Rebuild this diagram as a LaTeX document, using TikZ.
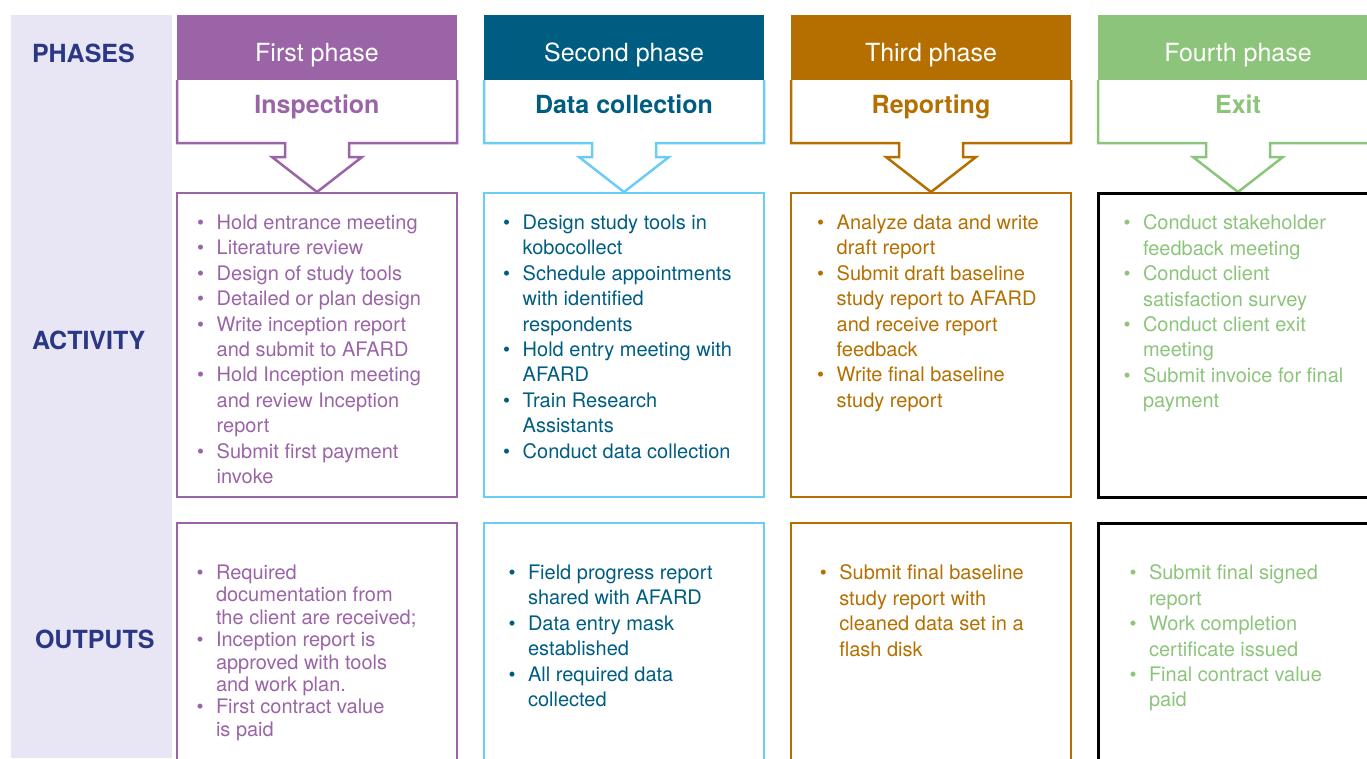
\documentclass[tikz,border=0pt]{standalone}
\usepackage{fontspec}
\setmainfont{TeX Gyre Heros}
\usetikzlibrary{positioning}

\definecolor{lav}{HTML}{E8E6F4}
\definecolor{navy}{HTML}{2A3784}
\definecolor{purp}{HTML}{9A64A7}
\definecolor{deepteal}{HTML}{005D82}
\definecolor{sky}{HTML}{6BCDF3}
\definecolor{ochre}{HTML}{B46F00}
\definecolor{leaf}{HTML}{8DC47B}

% bullet and hanging indent for the item lists
\newcommand{\bul}{\makebox[32pt]{\textbullet}}
\newcommand{\ind}{\hspace*{32pt}}

\begin{document}
\begin{tikzpicture}[x=1pt, y=-1pt,
    every node/.style={outer sep=0pt, inner sep=0pt},
    head/.style={minimum width=280pt, minimum height=65pt, text=white,
        font=\fontsize{25}{30}\selectfont, text height=30pt, text depth=3pt},
    phasetitle/.style={minimum width=280pt, minimum height=63pt,
        font=\fontsize{25}{30}\selectfont\bfseries, text height=18pt, text depth=15pt},
    card/.style={draw, line width=2.5pt, minimum width=280pt},
    actbox/.style={card, minimum height=304pt},
    outbox/.style={card, minimum height=260pt},
    rim/.style={line width=2.5pt},
    items/.style={align=left, font=\fontsize{20}{25.4}\selectfont},
    rowlabel/.style={anchor=west, text=navy, font=\fontsize{25}{30}\selectfont\bfseries}]
    \clip (0,0) rectangle (1367,758);

    % row labels on the left band
    \fill[lav] (11,15) rectangle (172,758);
    \node[rowlabel] (phases) at (32,53) {PHASES};
    \node[rowlabel] (activity) at (32,340) {ACTIVITY};
    \node[rowlabel] (outputs) at (35,639) {OUTPUTS};

    % phase headers
    \node[head, fill=purp, anchor=north west] (hd1) at (177,15) {First phase};
    \node[head, fill=deepteal, right=27pt of hd1] (hd2) {Second phase};
    \node[head, fill=ochre, right=27pt of hd2] (hd3) {Third phase};
    \node[head, fill=leaf, right=27pt of hd3] (hd4) {Fourth phase};

    \node[phasetitle, text=purp, below=0pt of hd1] (tt1) {Inspection};
    \node[phasetitle, text=deepteal, below=0pt of hd2] (tt2) {Data collection};
    \node[phasetitle, text=ochre, below=0pt of hd3] (tt3) {Reporting};
    \node[phasetitle, text=leaf, below=0pt of hd4] (tt4) {Exit};

    % title boxes running into the down arrows
    \draw[rim, purp] (tt1.north west) -- (tt1.south west) -- ++(108,0) -- ++(0,14) -- ++(-13,0) -- ++(45,35) -- ++(45,-35) -- ++(-13,0) -- ++(0,-14) -- (tt1.south east) -- (tt1.north east);
    \draw[rim, sky] (tt2.north west) -- (tt2.south west) -- ++(108,0) -- ++(0,14) -- ++(-13,0) -- ++(45,35) -- ++(45,-35) -- ++(-13,0) -- ++(0,-14) -- (tt2.south east) -- (tt2.north east);
    \draw[rim, ochre] (tt3.north west) -- (tt3.south west) -- ++(108,0) -- ++(0,14) -- ++(-13,0) -- ++(45,35) -- ++(45,-35) -- ++(-13,0) -- ++(0,-14) -- (tt3.south east) -- (tt3.north east);
    \draw[rim, leaf] (tt4.north west) -- (tt4.south west) -- ++(108,0) -- ++(0,14) -- ++(-13,0) -- ++(45,35) -- ++(45,-35) -- ++(-13,0) -- ++(0,-14) -- (tt4.south east) -- (tt4.north east);

    % activity and output boxes
    \node[actbox, draw=purp, below=50pt of tt1] (ac1) {};
    \node[actbox, draw=sky, below=50pt of tt2] (ac2) {};
    \node[actbox, draw=ochre, below=50pt of tt3] (ac3) {};
    \node[actbox, draw=black, line width=3pt, below=50pt of tt4] (ac4) {};
    \node[outbox, draw=purp, below=26pt of ac1] (op1) {};
    \node[outbox, draw=sky, below=26pt of ac2] (op2) {};
    \node[outbox, draw=ochre, below=26pt of ac3] (op3) {};
    \node[outbox, draw=black, line width=3pt, below=26pt of ac4] (op4) {};

    % activities
    \node[items, text=purp, below right=22pt and 7.7pt of ac1.north west] (ac1txt) {%
        \bul Hold entrance meeting\\
        \bul Literature review\\
        \bul Design of study tools\\
        \bul Detailed or plan design\\
        \bul Write inception report\\
        \ind and submit to AFARD\\
        \bul Hold Inception meeting\\
        \ind and review Inception\\
        \ind report\\
        \bul Submit first payment\\
        \ind invoke};
    \node[items, text=deepteal, below right=22pt and 6.7pt of ac2.north west] (ac2txt) {%
        \bul Design study tools in\\
        \ind kobocollect\\
        \bul Schedule appointments\\
        \ind with identified\\
        \ind respondents\\
        \bul Hold entry meeting with\\
        \ind AFARD\\
        \bul Train Research\\
        \ind Assistants\\
        \bul Conduct data collection};
    \node[items, text=ochre, below right=22pt and 13.7pt of ac3.north west] (ac3txt) {%
        \bul Analyze data and write\\
        \ind draft report\\
        \bul Submit draft baseline\\
        \ind study report to AFARD\\
        \ind and receive report\\
        \ind feedback\\
        \bul Write final baseline\\
        \ind study report};
    \node[items, text=leaf, below right=22pt and 13pt of ac4.north west] (ac4txt) {%
        \bul Conduct stakeholder\\
        \ind feedback meeting\\
        \bul Conduct client\\
        \ind satisfaction survey\\
        \bul Conduct client exit\\
        \ind meeting\\
        \bul Submit invoice for final\\
        \ind payment};

    % outputs
    \node[items, text=purp, font=\fontsize{20}{22.4}\selectfont, below right=42pt and 7pt of op1.north west] (op1txt) {%
        \bul Required\\
        \ind documentation from\\
        \ind the client are received;\\
        \bul Inception report is\\
        \ind approved with tools\\
        \ind and work plan.\\
        \bul First contract value\\
        \ind is paid};
    \node[items, text=deepteal, below right=42pt and 12pt of op2.north west] (op2txt) {%
        \bul Field progress report\\
        \ind shared with AFARD\\
        \bul Data entry mask\\
        \ind established\\
        \bul All required data\\
        \ind collected};
    \node[items, text=ochre, below right=42pt and 16.3pt of op3.north west] (op3txt) {%
        \bul Submit final baseline\\
        \ind study report with\\
        \ind cleaned data set in a\\
        \ind flash disk};
    \node[items, text=leaf, below right=42pt and 19pt of op4.north west] (op4txt) {%
        \bul Submit final signed\\
        \ind report\\
        \bul Work completion\\
        \ind certificate issued\\
        \bul Final contract value\\
        \ind paid};
\end{tikzpicture}
\end{document}
